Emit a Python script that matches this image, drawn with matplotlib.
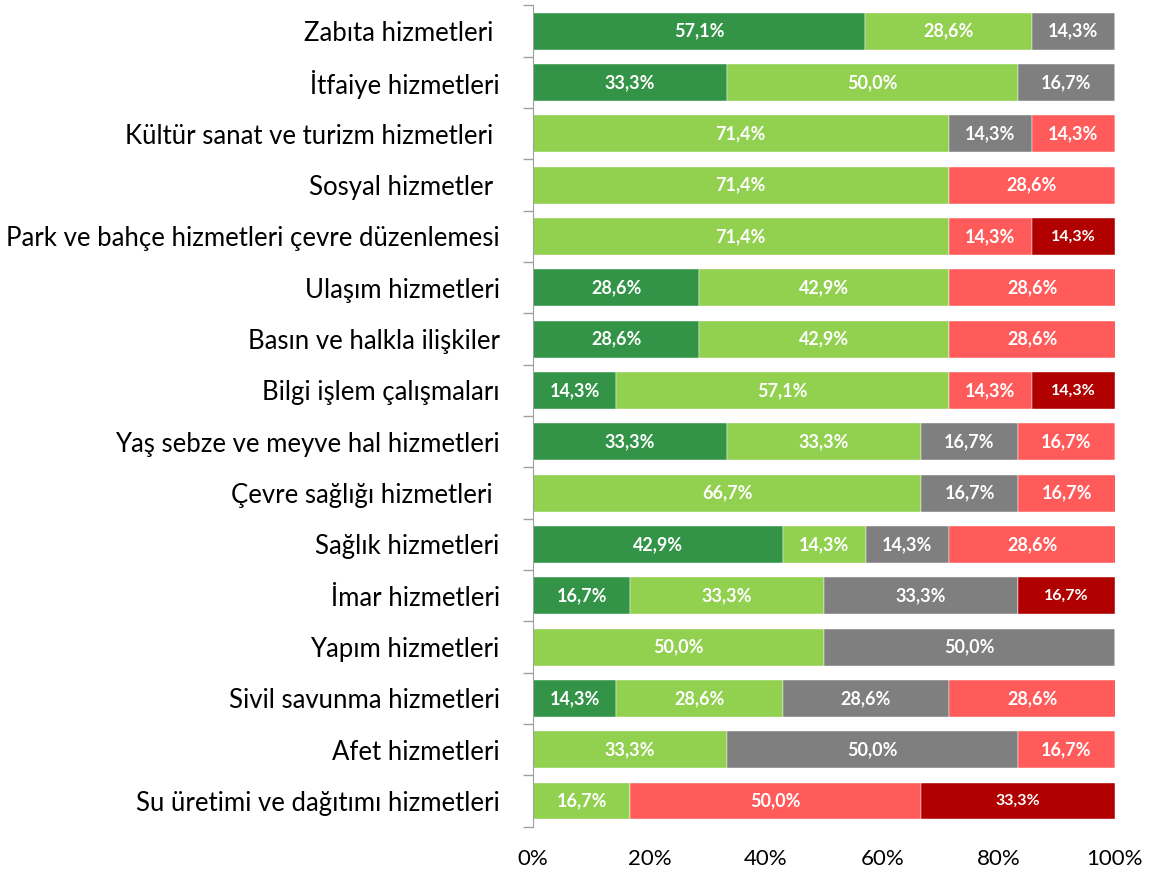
import numpy as np
import matplotlib.pyplot as plt
from matplotlib.ticker import FixedLocator

plt.rcParams['font.family'] = ['Lato', 'DejaVu Sans']

# categories top to bottom
categories = [
    "Zabıta hizmetleri ",
    "İtfaiye hizmetleri",
    "Kültür sanat ve turizm hizmetleri ",
    "Sosyal hizmetler ",
    "Park ve bahçe hizmetleri çevre düzenlemesi",
    "Ulaşım hizmetleri",
    "Basın ve halkla ilişkiler",
    "Bilgi işlem çalışmaları",
    "Yaş sebze ve meyve hal hizmetleri",
    "Çevre sağlığı hizmetleri ",
    "Sağlık hizmetleri",
    "İmar hizmetleri",
    "Yapım hizmetleri",
    "Sivil savunma hizmetleri",
    "Afet hizmetleri",
    "Su üretimi ve dağıtımı hizmetleri",
]

# percentages per series
dark_green = [57.1, 33.3, 0, 0, 0, 28.6, 28.6, 14.3, 33.3, 0, 42.9, 16.7, 0, 14.3, 0, 0]
light_green = [28.6, 50.0, 71.4, 71.4, 71.4, 42.9, 42.9, 57.1, 33.3, 66.7, 14.3, 33.3, 50.0, 28.6, 33.3, 16.7]
gray = [14.3, 16.7, 14.3, 0, 0, 0, 0, 0, 16.7, 16.7, 14.3, 33.3, 50.0, 28.6, 50.0, 0]
light_red = [0, 0, 14.3, 28.6, 14.3, 28.6, 28.6, 14.3, 16.7, 16.7, 28.6, 0, 0, 28.6, 16.7, 50.0]
dark_red = [0, 0, 0, 0, 14.3, 0, 0, 14.3, 0, 0, 0, 16.7, 0, 0, 0, 33.3]

series = [dark_green, light_green, gray, light_red, dark_red]
colors = ['#339447', '#92D050', '#7F7F7F', '#FF5B5B', '#B00000']
label_sizes = [13, 13, 13, 13, 11.5]

fig = plt.figure(figsize=(11.5, 8.69), dpi=100)
ax = fig.add_axes([0.4635, 0.0487, 0.506, 0.945])

y = np.arange(len(categories))
left = np.zeros(len(categories))
for vals, c, fs in zip(series, colors, label_sizes):
    vals = np.array(vals, dtype=float)
    ax.barh(y, vals, left=left, height=0.72, color=c, edgecolor='white', linewidth=0.3)
    for yi, (l, v) in enumerate(zip(left, vals)):
        if v > 0:
            ax.text(l + v / 2, yi, ('%.1f%%' % v).replace('.', ','), ha='center', va='center',
                    color='white', fontsize=fs, fontweight='bold')
    left += vals

ax.set_xlim(0, 100)
ax.set_ylim(len(categories) - 0.5, -0.5)
ax.set_yticks(y)
ax.set_yticklabels(categories, fontsize=18.5)
ax.tick_params(axis='y', which='major', length=0, pad=24)
ax.yaxis.set_minor_locator(FixedLocator(np.arange(-0.5, len(categories), 1)))
ax.tick_params(axis='y', which='minor', length=7, color='#A0A0A0', width=1)
ax.set_xticks([0, 20, 40, 60, 80, 100])
ax.set_xticklabels(['0%', '20%', '40%', '60%', '80%', '100%'], fontsize=16)
ax.tick_params(axis='x', length=0, pad=16)
for s in ['top', 'right', 'bottom']:
    ax.spines[s].set_visible(False)
ax.spines['left'].set_color('#A0A0A0')

fig.savefig('out.png', dpi=100)
